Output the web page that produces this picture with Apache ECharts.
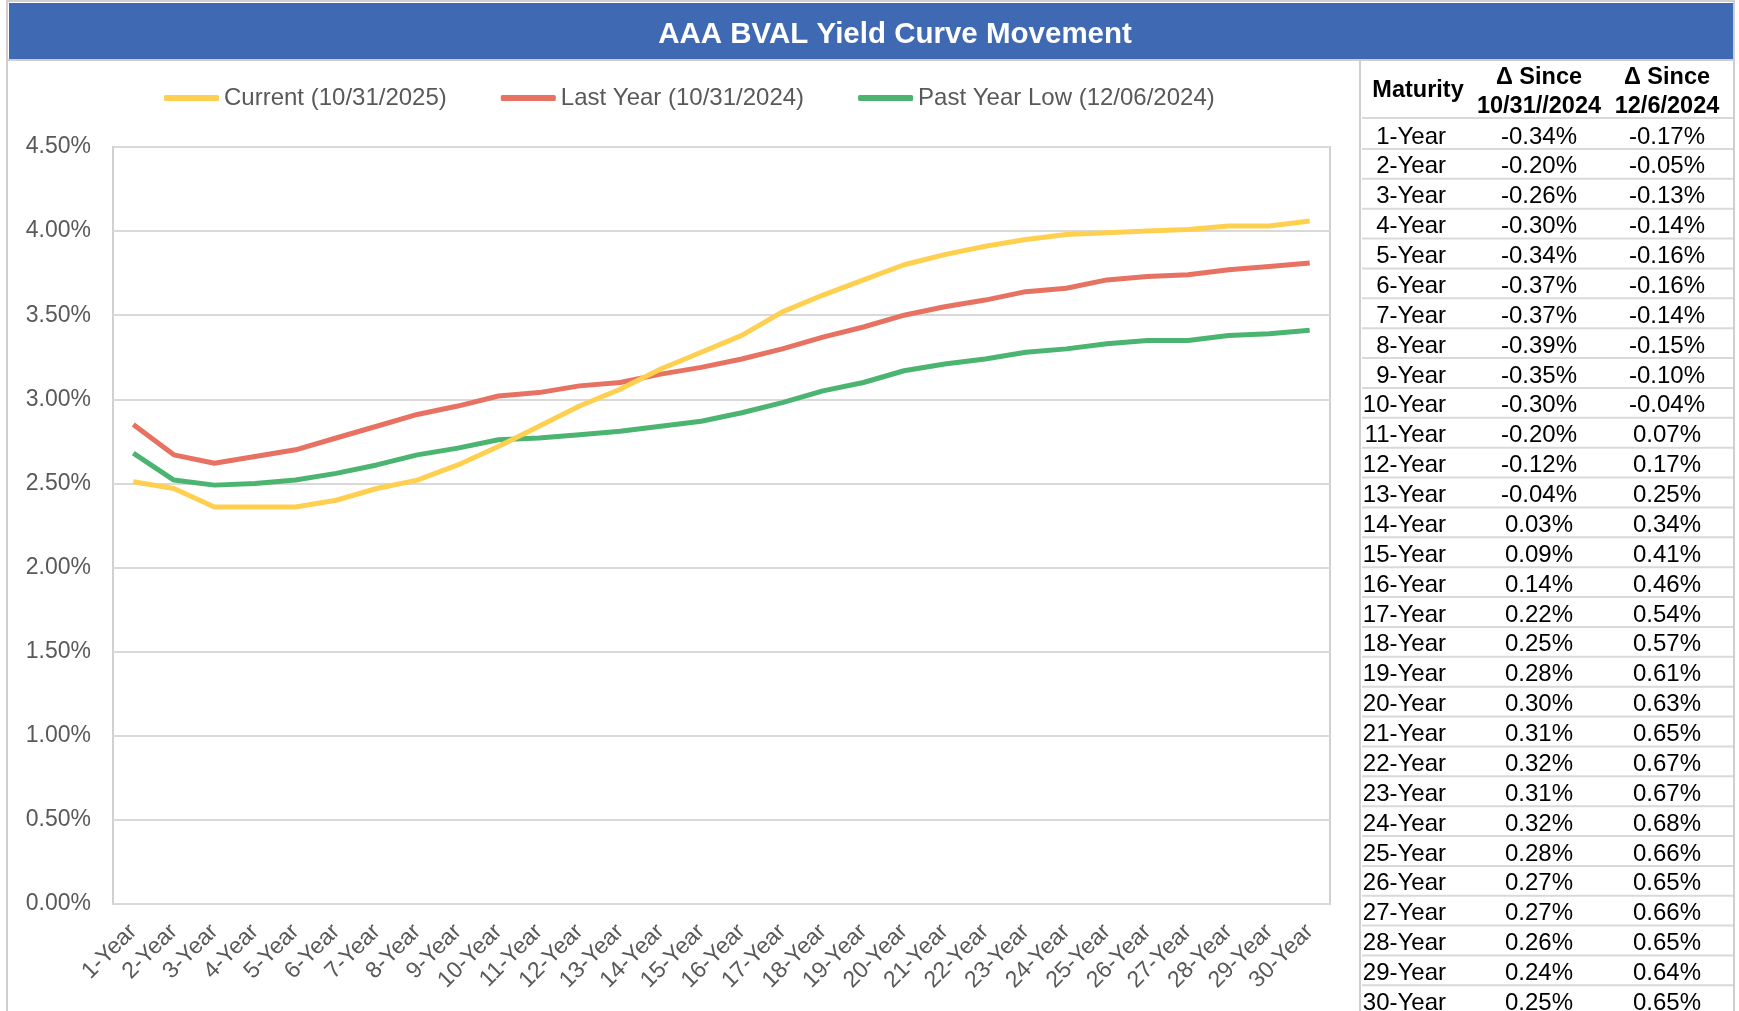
<!DOCTYPE html>
<html>
<head>
<meta charset="utf-8">
<title>AAA BVAL Yield Curve Movement</title>
<script src="https://cdn.jsdelivr.net/npm/echarts@6.0.0/dist/echarts.min.js"></script>
<style>
html, body { margin: 0; padding: 0; background: #fff; }
#chart { width: 1739px; height: 1011px; }
</style>
</head>
<body>
<div id="chart"></div>
<script>
// maturities on the x axis and in the table
const maturities = [
    '1-Year', '2-Year', '3-Year', '4-Year', '5-Year', '6-Year', '7-Year', '8-Year', '9-Year', '10-Year',
    '11-Year', '12-Year', '13-Year', '14-Year', '15-Year', '16-Year', '17-Year', '18-Year', '19-Year', '20-Year',
    '21-Year', '22-Year', '23-Year', '24-Year', '25-Year', '26-Year', '27-Year', '28-Year', '29-Year', '30-Year'
];

// yields in %
const current = [
    2.51, 2.47, 2.36, 2.36, 2.36, 2.40, 2.47, 2.52, 2.61, 2.72,
    2.84, 2.96, 3.06, 3.18, 3.28, 3.38, 3.52, 3.62, 3.71, 3.80,
    3.86, 3.91, 3.95, 3.98, 3.99, 4.00, 4.01, 4.03, 4.03, 4.06
];
const lastYear = [
    2.85, 2.67, 2.62, 2.66, 2.70, 2.77, 2.84, 2.91, 2.96, 3.02,
    3.04, 3.08, 3.10, 3.15, 3.19, 3.24, 3.30, 3.37, 3.43, 3.50,
    3.55, 3.59, 3.64, 3.66, 3.71, 3.73, 3.74, 3.77, 3.79, 3.81
];
const pastYearLow = [
    2.68, 2.52, 2.49, 2.50, 2.52, 2.56, 2.61, 2.67, 2.71, 2.76,
    2.77, 2.79, 2.81, 2.84, 2.87, 2.92, 2.98, 3.05, 3.10, 3.17,
    3.21, 3.24, 3.28, 3.30, 3.33, 3.35, 3.35, 3.38, 3.39, 3.41
];

// table columns, change in %
const sinceLastYear = [
    -0.34, -0.20, -0.26, -0.30, -0.34, -0.37, -0.37, -0.39, -0.35, -0.30,
    -0.20, -0.12, -0.04, 0.03, 0.09, 0.14, 0.22, 0.25, 0.28, 0.30,
    0.31, 0.32, 0.31, 0.32, 0.28, 0.27, 0.27, 0.26, 0.24, 0.25
];
const sinceLow = [
    -0.17, -0.05, -0.13, -0.14, -0.16, -0.16, -0.14, -0.15, -0.10, -0.04,
    0.07, 0.17, 0.25, 0.34, 0.41, 0.46, 0.54, 0.57, 0.61, 0.63,
    0.65, 0.67, 0.67, 0.68, 0.66, 0.65, 0.66, 0.65, 0.64, 0.65
];

const yTicks = { min: 0, max: 4.5, interval: 0.5 };

const FONT = '"Liberation Sans", Arial, sans-serif';
const GREY_TEXT = '#595959';
const LINE_GREY = '#d9d9d9';

const chart = echarts.init(document.getElementById('chart'), null, { renderer: 'canvas' });

function text(x, y, str, opts) {
    const o = opts || {};
    return {
        type: 'text',
        x: x,
        y: y,
        silent: true,
        style: {
            text: str,
            fill: o.fill || '#000',
            fontFamily: FONT,
            fontSize: o.size || 24,
            fontWeight: o.bold ? 'bold' : 'normal',
            textAlign: o.align || 'center',
            align: o.align || 'center',
            textVerticalAlign: 'middle',
            verticalAlign: 'middle'
        }
    };
}

function hline(x1, x2, y, color, w) {
    return {
        type: 'line',
        silent: true,
        shape: { x1: x1, y1: y, x2: x2, y2: y },
        style: { stroke: color, lineWidth: w || 2 }
    };
}

function pct(v) {
    return v.toFixed(2) + '%';
}

// frame, title bar and table
const graphics = [
    {
        type: 'rect',
        silent: true,
        shape: { x: 7, y: 1, width: 1727, height: 1030 },
        style: { fill: 'none', stroke: '#cfcfcf', lineWidth: 2 }
    },
    {
        type: 'rect',
        silent: true,
        shape: { x: 9, y: 3, width: 1724, height: 56 },
        style: { fill: '#3f6ab3' }
    },
    text(895, 35, 'AAA BVAL Yield Curve Movement', { fill: '#fff', size: 29.5, bold: true }),
    hline(8, 1734, 60, '#cfcfcf', 2),
    {
        type: 'line',
        silent: true,
        shape: { x1: 1360, y1: 60, x2: 1360, y2: 1011 },
        style: { stroke: '#cfcfcf', lineWidth: 2 }
    },
    text(1418, 91, 'Maturity', { bold: true, size: 23.5 }),
    text(1539, 78, '\u0394 Since', { bold: true, size: 23.5 }),
    text(1539, 107, '10/31//2024', { bold: true, size: 23.5 }),
    text(1667, 78, '\u0394 Since', { bold: true, size: 23.5 }),
    text(1667, 107, '12/6/2024', { bold: true, size: 23.5 }),
    hline(1362, 1733, 118, LINE_GREY, 2)
];

const rowStep = 29.87;
maturities.forEach((m, i) => {
    const yc = 134 + i * rowStep;
    graphics.push(text(1446, yc + 3, m, { align: 'right' }));
    graphics.push(text(1539, yc + 3, pct(sinceLastYear[i])));
    graphics.push(text(1667, yc + 3, pct(sinceLow[i])));
    graphics.push(hline(1362, 1733, yc + 15, LINE_GREY, 2));
});

chart.setOption({
    animation: false,
    textStyle: { fontFamily: FONT },
    legend: {
        left: 159,
        top: 81,
        icon: 'roundRect',
        itemWidth: 55,
        itemHeight: 6,
        itemGap: 54,
        textStyle: {
            fontFamily: FONT,
            fontSize: 24,
            color: GREY_TEXT
        },
        data: ['Current (10/31/2025)', 'Last Year (10/31/2024)', 'Past Year Low (12/06/2024)']
    },
    grid: {
        show: true,
        left: 113,
        top: 147,
        width: 1217,
        height: 757,
        borderColor: '#d0d0d0',
        borderWidth: 2,
        backgroundColor: 'transparent',
        containLabel: false
    },
    xAxis: {
        type: 'category',
        boundaryGap: true,
        data: maturities,
        axisLine: { show: false },
        axisTick: { show: false },
        axisLabel: {
            interval: 0,
            rotate: 45,
            margin: 24,
            fontFamily: FONT,
            fontSize: 23,
            color: GREY_TEXT
        }
    },
    yAxis: {
        type: 'value',
        min: yTicks.min,
        max: yTicks.max,
        interval: yTicks.interval,
        axisLine: { show: false },
        axisTick: { show: false },
        axisLabel: {
            margin: 22,
            fontFamily: FONT,
            fontSize: 23,
            color: GREY_TEXT,
            formatter: v => v.toFixed(2) + '%'
        },
        splitLine: {
            lineStyle: { color: LINE_GREY, width: 2 }
        }
    },
    series: [
        {
            name: 'Current (10/31/2025)',
            type: 'line',
            data: current,
            symbol: 'none',
            z: 3,
            itemStyle: { color: '#ffd050' },
            lineStyle: { color: '#ffd050', width: 5 }
        },
        {
            name: 'Last Year (10/31/2024)',
            type: 'line',
            data: lastYear,
            symbol: 'none',
            z: 2,
            itemStyle: { color: '#e87262' },
            lineStyle: { color: '#e87262', width: 5 }
        },
        {
            name: 'Past Year Low (12/06/2024)',
            type: 'line',
            data: pastYearLow,
            symbol: 'none',
            z: 2,
            itemStyle: { color: '#4bb471' },
            lineStyle: { color: '#4bb471', width: 5 }
        }
    ],
    graphic: { elements: graphics }
});

window.addEventListener('resize', () => chart.resize());
</script>
</body>
</html>
